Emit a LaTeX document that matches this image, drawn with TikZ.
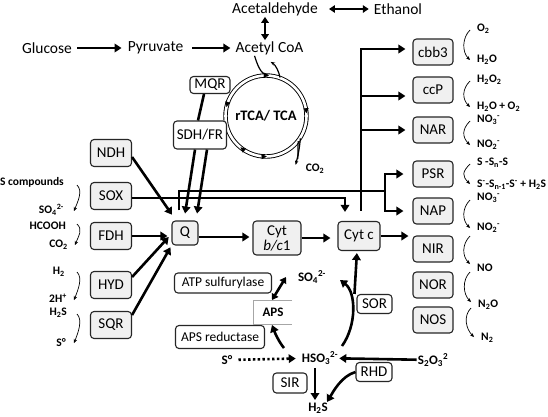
\documentclass[tikz,border=0pt]{standalone}
\usepackage{fontspec}
\setmainfont{Carlito}
\usetikzlibrary{arrows.meta,calc}
\begin{document}
\begin{tikzpicture}[x=1pt,y=-1pt,
  box/.style={draw=black!85, line width=1.1pt, fill=black!6, rounded corners=3.5pt,
    minimum width=41pt, minimum height=27pt, inner sep=1pt, font=\fontsize{15}{17}\selectfont},
  wbox/.style={box, fill=white},
  rbox/.style={box, minimum width=40pt, minimum height=26pt},
  txt/.style={inner sep=1pt, font=\fontsize{15.5}{17}\selectfont},
  lbl/.style={inner sep=1pt, font=\bfseries\fontsize{11.5}{13}\selectfont},
  slbl/.style={inner sep=1pt, font=\bfseries\fontsize{13}{14}\selectfont},
  arr/.style={line width=2.6pt, -{Triangle[length=7pt,width=8.5pt]}},
  darr/.style={line width=2.6pt, {Triangle[length=6pt,width=7.5pt]}-{Triangle[length=6pt,width=7.5pt]}},
  ln/.style={line width=2.6pt},
  rx/.style={line width=0.7pt, -{Stealth[length=4pt,width=3.5pt]}},
  thinc/.style={line width=1.2pt},
]
\path[fill=white] (0,0) rectangle (548,416);
\useasboundingbox (0,0) rectangle (548,416);

% ---- top row
\node[txt] (glu) at (47,48) {Glucose};
\node[txt] (pyr) at (155.5,48) {Pyruvate};
\node[txt] (acoa) at (269.5,48) {Acetyl CoA};
\node[txt] (acet) at (275,9) {Acetaldehyde};
\node[txt] (eth) at (398,9) {Ethanol};
\draw[arr, shorten <=4pt, shorten >=5pt] (glu) -- (pyr);
\draw[arr, shorten <=8pt, shorten >=4pt] (pyr) -- (acoa);
\draw[darr, shorten <=10pt, shorten >=4pt] (acet) -- (eth);
\draw[darr] ([xshift=-10pt]acet.south) -- ([xshift=-4.5pt]acoa.north);

% ---- TCA ring
\node[circle, draw, line width=0.9pt, double=white, double distance=2.6pt, minimum size=81pt,
  inner sep=0pt, font=\bfseries\fontsize{14.5}{16}\selectfont] (tca) at (266,116) {rTCA/ TCA};
\foreach \s/\e in {-96/-86, -13/-4, -158/-167, -240/-231, -262/-271}
  \draw[white, line width=0.1pt, -{Triangle[length=5pt,width=5pt,color=black]}]
    (tca.center) ++(\s:40.5) arc[start angle=\s, end angle=\e, radius=40.5];
\draw[thinc] ([xshift=-15pt]acoa.south) .. controls +(3,9) and +(-7,-1) .. (tca.88);
\draw[thinc, -{Stealth[length=4.5pt]}] (tca.70) .. controls +(-1,-6) and +(5,3) .. ($(acoa.south)+(1,6)$);
\node[lbl] (co2) at (315,169) {CO\textsubscript{2}};
\draw[thinc, -{Stealth[length=4.5pt]}] (tca.-33) .. controls +(-1,12) and +(2,-8) .. ($(co2.west)+(-9,-4)$);
\draw[thinc] (tca.-38) .. controls +(-1,9) and +(1,-6) .. ($(co2.west)+(-7,-10)$);

% ---- quinone side boxes
\node[wbox, minimum width=40pt, minimum height=17pt] (mqr) at (210,85) {MQR};
\node[wbox, minimum width=53pt, minimum height=28pt] (sdh) at (200,135) {SDH/FR};
\node[box] (ndh) at (111,153) {NDH};
\node[box] (sox) at (111,196) {SOX};
\node[box] (fdh) at (111,236) {FDH};
\node[box] (hyd) at (111,285) {HYD};
\node[box] (sqr) at (111,325) {SQR};
\node[box, minimum width=26pt, minimum height=24pt] (q) at (185,233) {Q};
\node[box, minimum width=48pt, minimum height=34pt, align=center, font=\fontsize{15}{15}\selectfont]
  (cytb) at (277,238) {Cyt\\\textit{b/c}1};
\node[box, minimum width=42pt, minimum height=29pt] (cytc) at (359,236) {Cyt c};

% ---- right column
\node[rbox] (cbb3) at (433,52) {cbb3};
\node[rbox] (ccp) at (433,90) {ccP};
\node[rbox] (nar) at (433,130) {NAR};
\node[rbox] (psr) at (433,174) {PSR};
\node[rbox] (nap) at (433,211) {NAP};
\node[rbox] (nir) at (433,249) {NIR};
\node[rbox] (nor) at (433,285) {NOR};
\node[rbox] (nos) at (433,320) {NOS};

% ---- connectors around Q
\draw[ln] ([xshift=-6pt]mqr.south) -- ([xshift=-2pt]sdh.north);
\draw[arr, shorten >=7pt] ([xshift=-5pt]sdh.south) -- ([xshift=-1pt]q.north);
\draw[arr, shorten >=7pt] ([xshift=7pt]sdh.south) -- ([xshift=11pt]q.north);
\draw[arr, shorten >=7pt] ([yshift=-4pt]ndh.east) -- ([xshift=-9pt]q.north);
\draw[arr, shorten >=4pt] (fdh.east) -- (fdh.east -| q.west);
\draw[arr, shorten >=4pt] ([yshift=8pt]hyd.east) -- ([yshift=-1pt]q.west);
\draw[arr, shorten >=2pt] ([yshift=10pt]sqr.east) -- (q.south west);
\draw[arr, shorten >=3pt] ([yshift=-4pt]q.east) -- ([yshift=-4pt]q.east -| cytb.west);
\draw[arr, shorten >=7pt] (cytb.east) -- (cytb.east -| cytc.west);
\draw[arr, shorten >=4pt] (cytc.east) -- (cytc.east -| nir.west);

% ---- Cyt c to terminal oxidases
\coordinate (vl) at ([xshift=2pt]cytc.north);
\coordinate (cbbin) at ([yshift=3pt]cbb3.west);
\coordinate (ccpin) at ([yshift=-6pt]ccp.west);
\draw[arr, shorten <=10pt, shorten >=7pt] (vl) |- (cbbin);
\draw[arr, shorten >=7pt] (vl |- ccpin) -- (ccpin);
\draw[arr, shorten >=7pt] (vl |- nar.west) -- (nar.west);

% ---- SOX lines
\draw[arr, shorten >=9pt] ([yshift=-2pt]sox.east) -| ([xshift=-14pt]cytc.north);
\coordinate (br) at (385,191);
\draw[ln, shorten <=10pt] ([xshift=-6pt]q.north) |- (br);
\draw[arr, shorten >=9pt] (br) |- (psr.west);
\draw[arr, shorten >=9pt] (br) |- (nap.west);

% ---- right reaction labels
\node[lbl, anchor=west] (o2) at (476,29) {O\textsubscript{2}};
\node[lbl, anchor=west] (h2o) at (476,60) {H\textsubscript{2}O};
\node[lbl, anchor=west] (h2o2) at (476,80) {H\textsubscript{2}O\textsubscript{2}};
\node[lbl, anchor=west] (h2oo2) at (476,107) {H\textsubscript{2}O + O\textsubscript{2}};
\node[lbl, anchor=west] (no3a) at (476,120) {NO\textsubscript{3}\textsuperscript{-}};
\node[lbl, anchor=west] (no2a) at (476,145) {NO\textsubscript{2}\textsuperscript{-}};
\node[lbl, anchor=west] (ssns) at (476,163) {S -S\textsubscript{n}-S};
\node[lbl, anchor=west] (ssn1) at (476,185) {S\textsuperscript{-}-S\textsubscript{n-1}-S\textsuperscript{-} + H\textsubscript{2}S};
\node[lbl, anchor=west] (no3b) at (476,198) {NO\textsubscript{3}\textsuperscript{-}};
\node[lbl, anchor=west] (no2b) at (476,228) {NO\textsubscript{2}\textsuperscript{-}};
\node[lbl, anchor=west] (no) at (476,268) {NO};
\node[lbl, anchor=west] (n2o) at (477,305) {N\textsubscript{2}O};
\node[lbl, anchor=west] (n2) at (480,338) {N\textsubscript{2}};
\foreach \a/\b/\da/\db in {o2/h2o/1/0, h2o2/h2oo2/1/0, no3a/no2a/1/0, ssns/ssn1/1/-1,
   no3b/no2b/2/0, no2b/no/8/-4, no/n2o/4/-3, n2o/n2/3/-1}
  \draw[rx] ($(\a.west)+(-6,\da)$) .. controls +(-8,8) and +(-8,-8) .. ($(\b.west)+(-6,\db)$);

% ---- left reaction labels
\node[lbl, anchor=east] (scomp) at (65,182) {S compounds};
\node[lbl, anchor=east] (so4l) at (65,210) {SO\textsubscript{4}\textsuperscript{2-}};
\node[lbl, anchor=east] (hcooh) at (67,226) {HCOOH};
\node[lbl, anchor=east] (co2l) at (69,245) {CO\textsubscript{2}};
\node[lbl, anchor=east] (h2l) at (66,272) {H\textsubscript{2}};
\node[lbl, anchor=east] (hp) at (68,298) {2H\textsuperscript{+}};
\node[lbl, anchor=east] (h2sl) at (68,313) {H\textsubscript{2}S};
\node[lbl, anchor=east] (s0l) at (67,343) {S°};
\draw[rx] ($(scomp.east)+(12,3)$) .. controls +(6,6) and +(4,-10) .. ($(so4l.east)+(9,1)$);
\draw[rx] ($(hcooh.east)+(10,-2)$) .. controls +(6,6) and +(4,-10) .. ($(co2l.east)+(6,0)$);
\draw[rx] ($(h2l.east)+(11,0)$) .. controls +(6,6) and +(4,-10) .. ($(hp.east)+(6,2)$);
\draw[rx] ($(h2sl.east)+(9,1)$) .. controls +(6,6) and +(4,-10) .. ($(s0l.east)+(7,0)$);

% ---- sulfur metabolism
\node[wbox, minimum width=97pt, minimum height=20pt, font=\fontsize{13.5}{15}\selectfont] (atps) at (223,283) {ATP sulfurylase};
\node[wbox, minimum width=89pt, minimum height=23pt, font=\fontsize{13.5}{15}\selectfont] (apsr) at (220,337) {APS reductase};
\node[slbl] (aps) at (273,312) {APS};
\draw[black!35, line width=0.6pt] ($(aps)+(19,-12)$) -- ($(aps)+(-20,-12)$) -- ($(aps)+(-20,12)$) -- ($(aps)+(19,12)$);
\node[slbl] (so4) at (312,277) {SO\textsubscript{4}\textsuperscript{2-}};
\node[slbl] (hso3) at (320,358) {HSO\textsubscript{3}\textsuperscript{2-}};
\node[slbl] (s0) at (227,360) {S°};
\node[slbl] (s2o3) at (433,360) {S\textsubscript{2}O\textsubscript{3}\textsuperscript{2}};
\node[slbl] (h2s) at (318,408) {H\textsubscript{2}S};
\node[wbox, minimum width=35pt, minimum height=19pt] (sor) at (374.5,304) {SOR};
\node[wbox, minimum width=36pt, minimum height=19pt] (rhd) at (374,372) {RHD};
\node[wbox, minimum width=34pt, minimum height=20pt] (sir) at (290,383) {SIR};

\draw[darr] ($(aps)+(-1,-12)$) -- ($(so4)+(-26,0)$);
\draw[arr] ($(hso3)+(-36,-10)$) .. controls +(-5,-6) and +(3,8) .. ($(aps)+(-1,13)$);
\draw[arr] ($(hso3)+(22,-12)$) .. controls (357,325) and (356,292) .. ($(so4)+(28,3)$);
\draw[arr, shorten >=2pt] ([xshift=-2pt]sor.north west) -- ([xshift=-2pt]cytc.south);
\draw[arr, dash pattern=on 2.4pt off 2.4pt, shorten <=5pt, shorten >=5pt] (s0) -- (hso3);
\draw[arr] (s2o3) -- (hso3);
\draw[arr] (rhd.west) .. controls +(-14,4) and +(6,-10) .. ($(h2s)+(9,-6)$);
\draw[arr] ($(hso3)+(-5,10)$) -- ($(h2s)+(-3,-8)$);
\end{tikzpicture}
\end{document}
